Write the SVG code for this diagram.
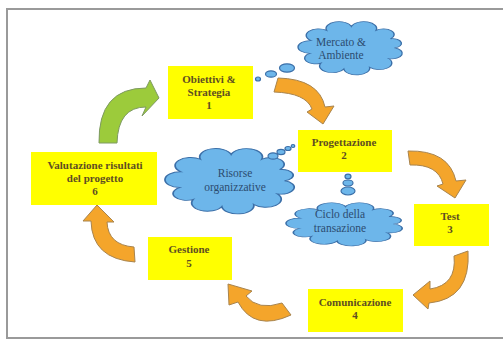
<svg xmlns="http://www.w3.org/2000/svg" xmlns:xlink="http://www.w3.org/1999/xlink" width="503" height="349" viewBox="0 0 503 349">
<style>
.box{fill:#FFFF00;}
.bt{font-family:"Liberation Serif","Times New Roman",serif;font-weight:bold;font-size:11px;fill:#5e4e22;text-anchor:middle;}
.ct{font-family:"Liberation Serif","Times New Roman",serif;font-size:11.5px;fill:#2c4c70;text-anchor:middle;}
.cloud{fill:#6DB6EA;stroke:#3B6FA8;stroke-width:1.3;vector-effect:non-scaling-stroke;}
.bub{fill:#6DB6EA;stroke:#3B6FA8;stroke-width:1.2;}
.orange{fill:#F4A52B;stroke:#A8844E;stroke-width:1;}
.green{fill:#9CCB3B;stroke:#7E9A62;stroke-width:1;}
</style>
<defs>
<path id="cloud" d="M90,50 A1,1 0 0 1 84.6,69 A1,1 0 0 1 66.9,84.4 A1,1 0 0 1 43,87.4 A1,1 0 0 1 21.7,76.9 A1,1 0 0 1 11.4,59.8 A1,1 0 0 1 12.4,37 A1,1 0 0 1 27,18.9 A1,1 0 0 1 50,12 A1,1 0 0 1 72.9,18.9 A1,1 0 0 1 86.3,33.9 A1,1 0 0 1 90,50 Z"/>
</defs>
<rect x="0" y="0" width="503" height="349" fill="#ffffff"/>
<rect x="7" y="9" width="510" height="329" fill="#ffffff" stroke="#9a9a9a" stroke-width="2"/>

<g id="connectors">
<path class="green" d="M99,143 Q98,88 146,88 L150,80 L159,98 L142,116 L146,107 Q118,107 117,143 Z"/>
<path class="orange" d="M278,78 Q319,79 325,107 L334,106 L323,124 L307,112 L312,109 Q306,93 274,92 Z"/>
<path class="orange" d="M408,151 Q449,150 456,181 L466,180 L455,198 L437,186 L443,184 Q438,164 410,165 Z"/>
<path class="orange" d="M454,256 L468,251 Q471,299 429,303 L428,309 L413,295 L430,281 L430,289 Q457,285 454,256 Z"/>
<path class="orange" d="M282,303 L291,315 Q254,332 238,302 L229,305 L228,284 L252,291 L246,296 Q258,311 282,303 Z"/>
<path class="orange" d="M134,247 L135,262 Q92,259 91,221 L83,221 L97,205 L114,222 L107,222 Q108,245 134,247 Z"/>
</g>

<g id="cloud-mercato">
<ellipse class="bub" cx="258" cy="79" rx="2.5" ry="2"/>
<ellipse class="bub" cx="271" cy="74" rx="5.5" ry="3.2"/>
<ellipse class="bub" cx="287" cy="68" rx="7.5" ry="4.2"/>
<use xlink:href="#cloud" class="cloud" transform="translate(297.5,19.7) scale(1.078,0.564)"/>
<text class="ct" x="341" y="46">Mercato &amp;</text>
<text class="ct" x="341" y="59">Ambiente</text>
</g>

<g id="cloud-risorse">
<use xlink:href="#cloud" class="cloud" transform="translate(164.3,146.2) scale(1.337,0.691)"/>
<ellipse class="bub" cx="273" cy="156" rx="5" ry="3.2"/>
<ellipse class="bub" cx="281" cy="152" rx="4" ry="2.6"/>
<ellipse class="bub" cx="288" cy="148.5" rx="3" ry="2"/>
<ellipse class="bub" cx="293" cy="146" rx="1.8" ry="1.5"/>
<text class="ct" x="235" y="177">Risorse</text>
<text class="ct" x="235" y="191">organizzative</text>
</g>

<g id="cloud-ciclo">
<ellipse class="bub" cx="348" cy="191" rx="7" ry="4"/>
<ellipse class="bub" cx="348" cy="183" rx="5" ry="3"/>
<ellipse class="bub" cx="348" cy="176.5" rx="3" ry="2.3"/>
<use xlink:href="#cloud" class="cloud" transform="translate(285.4,201.2) scale(1.202,0.457)"/>
<text class="ct" x="340" y="218">Ciclo della</text>
<text class="ct" x="340" y="232">transazione</text>
</g>

<g id="node1">
<rect class="box" x="168" y="66" width="85" height="53"/>
<text class="bt" x="209" y="83">Obiettivi &amp;</text>
<text class="bt" x="209" y="96">Strategia</text>
<text class="bt" x="209" y="109">1</text>
</g>
<g id="node2">
<rect class="box" x="298" y="130" width="94" height="42"/>
<text class="bt" x="344" y="146">Progettazione</text>
<text class="bt" x="344" y="159">2</text>
</g>
<g id="node3">
<rect class="box" x="414" y="204" width="75" height="42"/>
<text class="bt" x="450" y="220">Test</text>
<text class="bt" x="450" y="233">3</text>
</g>
<g id="node4">
<rect class="box" x="308" y="289" width="95" height="43"/>
<text class="bt" x="355" y="306">Comunicazione</text>
<text class="bt" x="355" y="319">4</text>
</g>
<g id="node5">
<rect class="box" x="148" y="237" width="84" height="43"/>
<text class="bt" x="189" y="253">Gestione</text>
<text class="bt" x="189" y="267">5</text>
</g>
<g id="node6">
<rect class="box" x="31" y="152" width="126" height="53"/>
<text class="bt" x="95" y="169">Valutazione risultati</text>
<text class="bt" x="95" y="182">del progetto</text>
<text class="bt" x="95" y="195">6</text>
</g>
</svg>
